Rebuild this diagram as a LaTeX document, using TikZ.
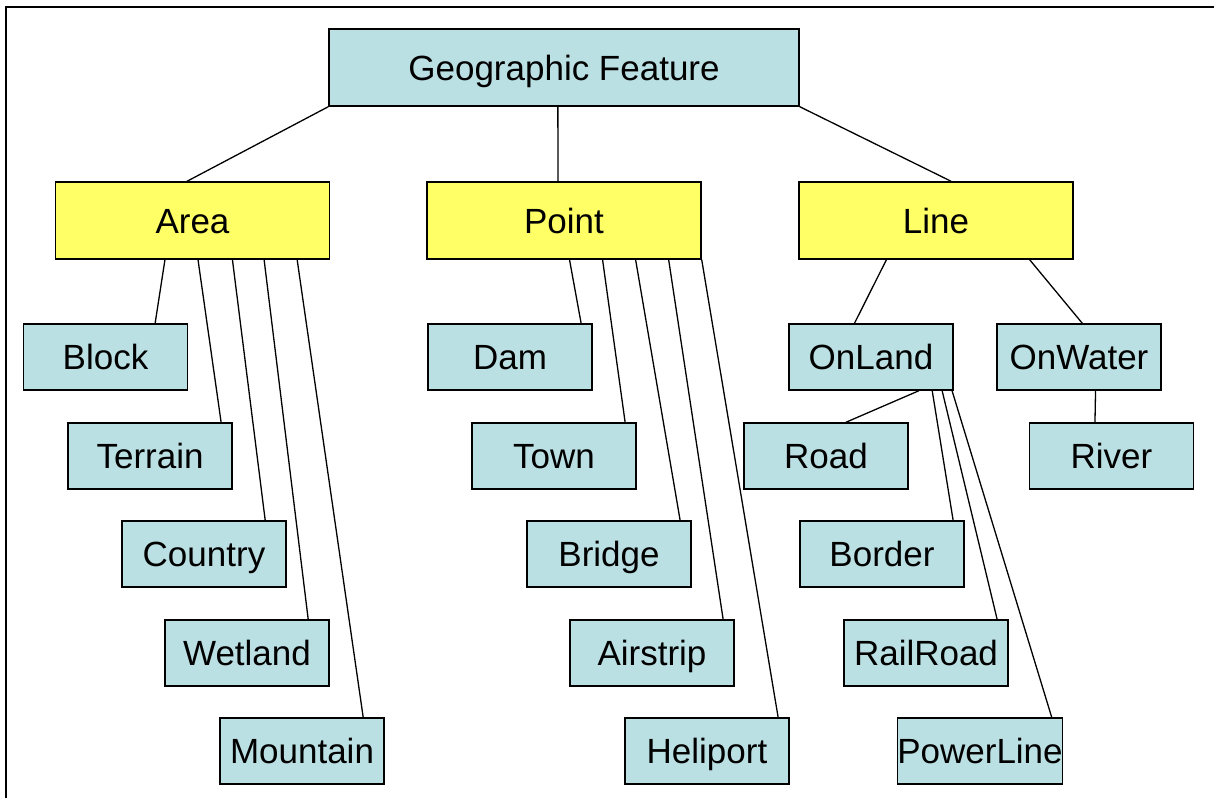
\documentclass[tikz,border=0pt]{standalone}
\usepackage{fontspec}
\setmainfont{Liberation Sans}
\usetikzlibrary{calc}
\definecolor{boxblue}{RGB}{187,224,227}
\definecolor{boxyellow}{RGB}{255,255,102}

\begin{document}
\begin{tikzpicture}[x=1pt, y=-1pt]
\tikzset{every node/.style={font=\fontsize{35}{42}\selectfont, inner sep=0pt, text height=25pt, text depth=0pt},
    feat/.style={draw, line width=1.4pt, fill=boxblue, minimum width=164pt, minimum height=66pt},
    kind/.style={draw, line width=1.4pt, fill=boxyellow, minimum width=274pt, minimum height=77pt},
    link/.style={line width=1.3pt}}
    \useasboundingbox (0,0) rectangle (1214,798);
    \draw[line width=1.3pt] (1214,7) -- (6,7) -- (6,798);

    % top levels
    \node[feat, minimum width=470pt, minimum height=77pt] (geo) at (564,67.5) {Geographic Feature};
    \node[kind] (area) at (192.5,220.5) {Area};
    \node[kind] (point) at (564,220.5) {Point};
    \node[kind] (line) at (936,220.5) {Line};

    % area
    \node[feat] (block) at (105.5,357) {Block};
    \node[feat] (terrain) at (150,456) {Terrain};
    \node[feat] (country) at (204,554) {Country};
    \node[feat] (wetland) at (247,653) {Wetland};
    \node[feat] (mountain) at (302,751) {Mountain};

    % point
    \node[feat] (dam) at (510,357) {Dam};
    \node[feat] (town) at (554,456) {Town};
    \node[feat] (bridge) at (609,554) {Bridge};
    \node[feat] (airstrip) at (652,653) {Airstrip};
    \node[feat] (heliport) at (707,751) {Heliport};

    % line
    \node[feat] (onland) at (871,357) {OnLand};
    \node[feat] (onwater) at (1079,357) {OnWater};
    \node[feat] (road) at (826,456) {Road};
    \node[feat] (river) at (1111.5,456) {River};
    \node[feat] (border) at (882,554) {Border};
    \node[feat] (railroad) at (926,653) {RailRoad};
    \node[feat] (powerline) at (980,751) {PowerLine};

    \draw[link] (geo.south west) -- ($(area.north west)!.48!(area.north east)$);
    \draw[link] ($(geo.south west)!.487!(geo.south east)$) -- ($(point.north west)!.478!(point.north east)$);
    \draw[link] (geo.south east) -- ($(line.north west)!.555!(line.north east)$);

    \draw[link] ($(area.south west)!.40!(area.south east)$) -- ($(block.north west)!.80!(block.north east)$);
    \draw[link] ($(area.south west)!.52!(area.south east)$) -- ($(terrain.north west)!.93!(terrain.north east)$);
    \draw[link] ($(area.south west)!.645!(area.south east)$) -- ($(country.north west)!.87!(country.north east)$);
    \draw[link] ($(area.south west)!.76!(area.south east)$) -- ($(wetland.north west)!.87!(wetland.north east)$);
    \draw[link] ($(area.south west)!.88!(area.south east)$) -- ($(mountain.north west)!.87!(mountain.north east)$);

    \draw[link] ($(point.south west)!.52!(point.south east)$) -- ($(dam.north west)!.93!(dam.north east)$);
    \draw[link] ($(point.south west)!.64!(point.south east)$) -- ($(town.north west)!.93!(town.north east)$);
    \draw[link] ($(point.south west)!.76!(point.south east)$) -- ($(bridge.north west)!.93!(bridge.north east)$);
    \draw[link] ($(point.south west)!.88!(point.south east)$) -- ($(airstrip.north west)!.93!(airstrip.north east)$);
    \draw[link] (point.south east) -- ($(heliport.north west)!.93!(heliport.north east)$);

    \draw[link] ($(line.south west)!.32!(line.south east)$) -- ($(onland.north west)!.40!(onland.north east)$);
    \draw[link] ($(line.south west)!.84!(line.south east)$) -- ($(onwater.north west)!.52!(onwater.north east)$);

    \draw[link] ($(onland.south west)!.79!(onland.south east)$) -- ($(road.north west)!.62!(road.north east)$);
    \draw[link] ($(onland.south west)!.87!(onland.south east)$) -- ($(border.north west)!.93!(border.north east)$);
    \draw[link] ($(onland.south west)!.93!(onland.south east)$) -- ($(railroad.north west)!.93!(railroad.north east)$);
    \draw[link] ($(onland.south west)!.99!(onland.south east)$) -- ($(powerline.north west)!.93!(powerline.north east)$);
    \draw[link] ($(onwater.south west)!.60!(onwater.south east)$) -- ($(river.north west)!.40!(river.north east)$);
\end{tikzpicture}
\end{document}
